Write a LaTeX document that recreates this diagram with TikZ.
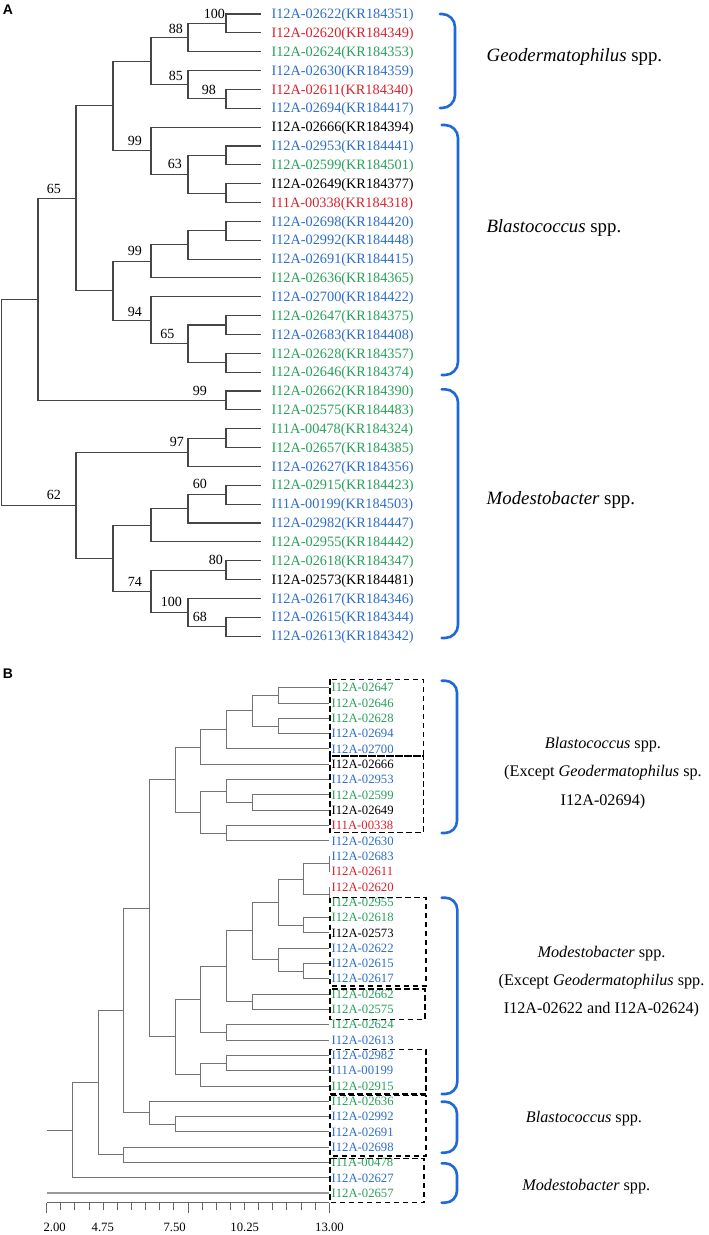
\documentclass[tikz,border=0pt]{standalone}
\usepackage{fontspec}
\setmainfont{Liberation Serif}
\newfontfamily\panelfont{Liberation Sans}

\definecolor{bluetxt}{RGB}{45,110,200}
\definecolor{greentxt}{RGB}{40,160,90}
\definecolor{redtxt}{RGB}{215,35,45}
\definecolor{bracecol}{RGB}{30,105,215}
\definecolor{treeA}{RGB}{70,70,70}
\definecolor{treeB}{RGB}{115,115,115}

\tikzset{
  leafA/.style={anchor=base west, inner sep=0pt, font=\fontsize{14.3}{17}\selectfont},
  leafB/.style={anchor=base west, inner sep=0pt, font=\fontsize{12.7}{15}\selectfont},
  boot/.style={anchor=base east, inner sep=0pt, font=\fontsize{14}{16}\selectfont},
  blueleaf/.style={text=bluetxt},
  greenleaf/.style={text=greentxt},
  redleaf/.style={text=redtxt},
  branchA/.style={draw=treeA, line width=1.1pt},
  branchB/.style={draw=treeB, line width=1pt},
  groupbox/.style={draw=black, line width=1.5pt, dash pattern=on 5.5pt off 3.5pt},
  sppbrace/.style={draw=bracecol, line width=2.6pt, rounded corners=13pt, line cap=round},
  cladeA/.style={anchor=base west, inner sep=0pt, font=\fontsize{18.8}{22}\selectfont},
  cladeB/.style={anchor=base, inner sep=0pt, font=\fontsize{16.2}{19}\selectfont},
  scalelabel/.style={anchor=base, inner sep=0pt, font=\fontsize{12.7}{15}\selectfont},
  panel/.style={inner sep=0pt, font=\panelfont\bfseries\fontsize{14}{16}\selectfont}
}

\begin{document}
\begin{tikzpicture}[x=1pt, y=-1pt]
\useasboundingbox (0,0) rectangle (709,1235);

%%%%%%%%%%%%%%%% Panel A %%%%%%%%%%%%%%%%
% genus labels
\node[cladeA] (geoA) at (486.5,61) {\textit{Geodermatophilus} spp.};
\node[cladeA] (blaA) at (486.3,232) {\textit{Blastococcus} spp.};
\node[cladeA] (modA) at (486.5,504.5) {\textit{Modestobacter} spp.};

% leaf ends
\coordinate (la1) at (261,14.00);
\coordinate (la2) at (261,32.85);
\coordinate (la3) at (261,51.70);
\coordinate (la4) at (261,70.55);
\coordinate (la5) at (261,89.40);
\coordinate (la6) at (261,108.25);
\coordinate (la7) at (261,127.10);
\coordinate (la8) at (261,145.95);
\coordinate (la9) at (261,164.80);
\coordinate (la10) at (261,183.65);
\coordinate (la11) at (261,202.50);
\coordinate (la12) at (261,221.35);
\coordinate (la13) at (261,240.20);
\coordinate (la14) at (261,259.05);
\coordinate (la15) at (261,277.90);
\coordinate (la16) at (261,296.75);
\coordinate (la17) at (261,315.60);
\coordinate (la18) at (261,334.45);
\coordinate (la19) at (261,353.30);
\coordinate (la20) at (261,372.15);
\coordinate (la21) at (261,391.00);
\coordinate (la22) at (261,409.85);
\coordinate (la23) at (261,428.70);
\coordinate (la24) at (261,447.55);
\coordinate (la25) at (261,466.40);
\coordinate (la26) at (261,485.25);
\coordinate (la27) at (261,504.10);
\coordinate (la28) at (261,522.95);
\coordinate (la29) at (261,541.80);
\coordinate (la30) at (261,560.65);
\coordinate (la31) at (261,579.50);
\coordinate (la32) at (261,598.35);
\coordinate (la33) at (261,617.20);
\coordinate (la34) at (261,636.05);

% leaf labels
\node[leafA, blueleaf] (ta1) at (271.3,18.70) {I12A-02622(KR184351)};
\node[leafA, redleaf] (ta2) at (271.3,37.55) {I12A-02620(KR184349)};
\node[leafA, greenleaf] (ta3) at (271.3,56.40) {I12A-02624(KR184353)};
\node[leafA, blueleaf] (ta4) at (271.3,75.25) {I12A-02630(KR184359)};
\node[leafA, redleaf] (ta5) at (271.3,94.10) {I12A-02611(KR184340)};
\node[leafA, blueleaf] (ta6) at (271.3,112.95) {I12A-02694(KR184417)};
\node[leafA] (ta7) at (271.3,131.80) {I12A-02666(KR184394)};
\node[leafA, blueleaf] (ta8) at (271.3,150.65) {I12A-02953(KR184441)};
\node[leafA, greenleaf] (ta9) at (271.3,169.50) {I12A-02599(KR184501)};
\node[leafA] (ta10) at (271.3,188.35) {I12A-02649(KR184377)};
\node[leafA, redleaf] (ta11) at (271.3,207.20) {I11A-00338(KR184318)};
\node[leafA, blueleaf] (ta12) at (271.3,226.05) {I12A-02698(KR184420)};
\node[leafA, blueleaf] (ta13) at (271.3,244.90) {I12A-02992(KR184448)};
\node[leafA, blueleaf] (ta14) at (271.3,263.75) {I12A-02691(KR184415)};
\node[leafA, greenleaf] (ta15) at (271.3,282.60) {I12A-02636(KR184365)};
\node[leafA, blueleaf] (ta16) at (271.3,301.45) {I12A-02700(KR184422)};
\node[leafA, greenleaf] (ta17) at (271.3,320.30) {I12A-02647(KR184375)};
\node[leafA, blueleaf] (ta18) at (271.3,339.15) {I12A-02683(KR184408)};
\node[leafA, greenleaf] (ta19) at (271.3,358.00) {I12A-02628(KR184357)};
\node[leafA, greenleaf] (ta20) at (271.3,376.85) {I12A-02646(KR184374)};
\node[leafA, greenleaf] (ta21) at (271.3,395.70) {I12A-02662(KR184390)};
\node[leafA, greenleaf] (ta22) at (271.3,414.55) {I12A-02575(KR184483)};
\node[leafA, greenleaf] (ta23) at (271.3,433.40) {I11A-00478(KR184324)};
\node[leafA, greenleaf] (ta24) at (271.3,452.25) {I12A-02657(KR184385)};
\node[leafA, blueleaf] (ta25) at (271.3,471.10) {I12A-02627(KR184356)};
\node[leafA, greenleaf] (ta26) at (271.3,489.95) {I12A-02915(KR184423)};
\node[leafA, blueleaf] (ta27) at (271.3,508.80) {I11A-00199(KR184503)};
\node[leafA, blueleaf] (ta28) at (271.3,527.65) {I12A-02982(KR184447)};
\node[leafA, greenleaf] (ta29) at (271.3,546.50) {I12A-02955(KR184442)};
\node[leafA, greenleaf] (ta30) at (271.3,565.35) {I12A-02618(KR184347)};
\node[leafA] (ta31) at (271.3,584.20) {I12A-02573(KR184481)};
\node[leafA, blueleaf] (ta32) at (271.3,603.05) {I12A-02617(KR184346)};
\node[leafA, blueleaf] (ta33) at (271.3,621.90) {I12A-02615(KR184344)};
\node[leafA, blueleaf] (ta34) at (271.3,640.75) {I12A-02613(KR184342)};

% internal nodes
\coordinate (geo1) at (226,23.43);
\coordinate (geo2) at (188,37.56);
\coordinate (geo3) at (226,98.83);
\coordinate (geo4) at (188,84.69);
\coordinate (geo5) at (151,61.13);
\coordinate (bla1) at (226,155.38);
\coordinate (bla2) at (226,193.08);
\coordinate (bla3) at (188,174.23);
\coordinate (bla4) at (151,150.66);
\coordinate (cA1) at (113,105.90);
\coordinate (bla5) at (226,230.78);
\coordinate (bla6) at (188,244.91);
\coordinate (bla7) at (151,261.41);
\coordinate (bla8) at (226,325.03);
\coordinate (bla9) at (226,362.73);
\coordinate (bla10) at (188,343.88);
\coordinate (bla11) at (151,320.31);
\coordinate (cA2) at (113,290.86);
\coordinate (cA3) at (76,198.38);
\coordinate (mod1) at (226,400.43);
\coordinate (cA4) at (38,299.40);
\coordinate (mod2) at (226,438.13);
\coordinate (mod3) at (188,452.26);
\coordinate (mod4) at (226,494.68);
\coordinate (mod5) at (188,508.81);
\coordinate (mod6) at (151,525.31);
\coordinate (mod7) at (226,570.08);
\coordinate (mod8) at (226,626.63);
\coordinate (mod9) at (188,612.49);
\coordinate (mod10) at (151,591.28);
\coordinate (mod11) at (113,558.30);
\coordinate (mod12) at (76,505.28);
\coordinate (rootA) at (1.2,402.34);

% Geodermatophilus clade
\draw[branchA] (geo1) |- (la1) (geo1) |- (la2);
\draw[branchA] (geo2) |- (geo1) (geo2) |- (la3);
\draw[branchA] (geo3) |- (la5) (geo3) |- (la6);
\draw[branchA] (geo4) |- (la4) (geo4) |- (geo3);
\draw[branchA] (geo5) |- (geo2) (geo5) |- (geo4);
% Blastococcus clade
\draw[branchA] (bla1) |- (la8) (bla1) |- (la9);
\draw[branchA] (bla2) |- (la10) (bla2) |- (la11);
\draw[branchA] (bla3) |- (bla1) (bla3) |- (bla2);
\draw[branchA] (bla4) |- (la7) (bla4) |- (bla3);
\draw[branchA] (cA1) |- (geo5) (cA1) |- (bla4);
\draw[branchA] (bla5) |- (la12) (bla5) |- (la13);
\draw[branchA] (bla6) |- (bla5) (bla6) |- (la14);
\draw[branchA] (bla7) |- (bla6) (bla7) |- (la15);
\draw[branchA] (bla8) |- (la17) (bla8) |- (la18);
\draw[branchA] (bla9) |- (la19) (bla9) |- (la20);
\draw[branchA] (bla10) |- (bla8) (bla10) |- (bla9);
\draw[branchA] (bla11) |- (la16) (bla11) |- (bla10);
\draw[branchA] (cA2) |- (bla7) (cA2) |- (bla11);
\draw[branchA] (cA3) |- (cA1) (cA3) |- (cA2);
% Modestobacter clade
\draw[branchA] (mod1) |- (la21) (mod1) |- (la22);
\draw[branchA] (cA4) |- (cA3) (cA4) |- (mod1);
\draw[branchA] (mod2) |- (la23) (mod2) |- (la24);
\draw[branchA] (mod3) |- (mod2) (mod3) |- (la25);
\draw[branchA] (mod4) |- (la26) (mod4) |- (la27);
\draw[branchA] (mod5) |- (mod4) (mod5) |- (la28);
\draw[branchA] (mod6) |- (mod5) (mod6) |- (la29);
\draw[branchA] (mod7) |- (la30) (mod7) |- (la31);
\draw[branchA] (mod8) |- (la33) (mod8) |- (la34);
\draw[branchA] (mod9) |- (la32) (mod9) |- (mod8);
\draw[branchA] (mod10) |- (mod7) (mod10) |- (mod9);
\draw[branchA] (mod11) |- (mod6) (mod11) |- (mod10);
\draw[branchA] (mod12) |- (mod3) (mod12) |- (mod11);
\draw[branchA] (rootA) |- (cA4) (rootA) |- (mod12);

% bootstrap values
\node[boot] (bs1) at (225,18.5) {100};
\node[boot] (bs2) at (183,33) {88};
\node[boot] (bs3) at (216,94) {98};
\node[boot] (bs4) at (183,80) {85};
\node[boot] (bs5) at (142,145.5) {99};
\node[boot] (bs6) at (182,168.5) {63};
\node[boot] (bs7) at (61,193) {65};
\node[boot] (bs8) at (142,255.5) {99};
\node[boot] (bs9) at (142,316) {94};
\node[boot] (bs10) at (174.5,338.5) {65};
\node[boot] (bs11) at (207,395.5) {99};
\node[boot] (bs12) at (184,446) {97};
\node[boot] (bs13) at (61,499.5) {62};
\node[boot] (bs14) at (207,488.5) {60};
\node[boot] (bs15) at (223,564) {80};
\node[boot] (bs16) at (142,586) {74};
\node[boot] (bs17) at (182,606) {100};
\node[boot] (bs18) at (207,621.5) {68};

% genus brackets
\draw[sppbrace] (440,14) -- (455,14) -- (455,108) -- (440,108);
\draw[sppbrace] (441.7,125) -- (458,125) -- (458,375) -- (441.7,375);
\draw[sppbrace] (441.7,389.3) -- (458,389.3) -- (458,638) -- (441.7,638);

%%%%%%%%%%%%%%%% Panel B %%%%%%%%%%%%%%%%
% leaf ends
\coordinate (lb1) at (329.4,687.70);
\coordinate (lb2) at (329.4,703.02);
\coordinate (lb3) at (329.4,718.34);
\coordinate (lb4) at (329.4,733.66);
\coordinate (lb5) at (329.4,748.98);
\coordinate (lb6) at (329.4,764.30);
\coordinate (lb7) at (329.4,779.62);
\coordinate (lb8) at (329.4,794.94);
\coordinate (lb9) at (329.4,810.26);
\coordinate (lb10) at (329.4,825.58);
\coordinate (lb11) at (329.4,840.90);
\coordinate (lb12) at (329.4,856.22);
\coordinate (lb13) at (329.4,871.54);
\coordinate (lb14) at (329.4,886.86);
\coordinate (lb15) at (329.4,902.18);
\coordinate (lb16) at (329.4,917.50);
\coordinate (lb17) at (329.4,932.82);
\coordinate (lb18) at (329.4,948.14);
\coordinate (lb19) at (329.4,963.46);
\coordinate (lb20) at (329.4,978.78);
\coordinate (lb21) at (329.4,994.10);
\coordinate (lb22) at (329.4,1009.42);
\coordinate (lb23) at (329.4,1024.74);
\coordinate (lb24) at (329.4,1040.06);
\coordinate (lb25) at (329.4,1055.38);
\coordinate (lb26) at (329.4,1070.70);
\coordinate (lb27) at (329.4,1086.02);
\coordinate (lb28) at (329.4,1101.34);
\coordinate (lb29) at (329.4,1116.66);
\coordinate (lb30) at (329.4,1131.98);
\coordinate (lb31) at (329.4,1147.30);
\coordinate (lb32) at (329.4,1162.62);
\coordinate (lb33) at (329.4,1177.94);
\coordinate (lb34) at (329.4,1193.26);

% leaf labels
\node[leafB, greenleaf] (tb1) at (331.4,691.90) {I12A-02647};
\node[leafB, greenleaf] (tb2) at (331.4,707.22) {I12A-02646};
\node[leafB, greenleaf] (tb3) at (331.4,722.54) {I12A-02628};
\node[leafB, blueleaf] (tb4) at (331.4,737.86) {I12A-02694};
\node[leafB, blueleaf] (tb5) at (331.4,753.18) {I12A-02700};
\node[leafB] (tb6) at (331.4,768.50) {I12A-02666};
\node[leafB, blueleaf] (tb7) at (331.4,783.82) {I12A-02953};
\node[leafB, greenleaf] (tb8) at (331.4,799.14) {I12A-02599};
\node[leafB] (tb9) at (331.4,814.46) {I12A-02649};
\node[leafB, redleaf] (tb10) at (331.4,829.78) {I11A-00338};
\node[leafB, blueleaf] (tb11) at (331.4,845.10) {I12A-02630};
\node[leafB, blueleaf] (tb12) at (331.4,860.42) {I12A-02683};
\node[leafB, redleaf] (tb13) at (331.4,875.74) {I12A-02611};
\node[leafB, redleaf] (tb14) at (331.4,891.06) {I12A-02620};
\node[leafB, greenleaf] (tb15) at (331.4,906.38) {I12A-02955};
\node[leafB, greenleaf] (tb16) at (331.4,921.70) {I12A-02618};
\node[leafB] (tb17) at (331.4,937.02) {I12A-02573};
\node[leafB, blueleaf] (tb18) at (331.4,952.34) {I12A-02622};
\node[leafB, blueleaf] (tb19) at (331.4,967.66) {I12A-02615};
\node[leafB, blueleaf] (tb20) at (331.4,982.98) {I12A-02617};
\node[leafB, greenleaf] (tb21) at (331.4,998.30) {I12A-02662};
\node[leafB, greenleaf] (tb22) at (331.4,1013.62) {I12A-02575};
\node[leafB, greenleaf] (tb23) at (331.4,1028.94) {I12A-02624};
\node[leafB, blueleaf] (tb24) at (331.4,1044.26) {I12A-02613};
\node[leafB, blueleaf] (tb25) at (331.4,1059.58) {I12A-02982};
\node[leafB, blueleaf] (tb26) at (331.4,1074.90) {I11A-00199};
\node[leafB, greenleaf] (tb27) at (331.4,1090.22) {I12A-02915};
\node[leafB, greenleaf] (tb28) at (331.4,1105.54) {I12A-02636};
\node[leafB, blueleaf] (tb29) at (331.4,1120.86) {I12A-02992};
\node[leafB, blueleaf] (tb30) at (331.4,1136.18) {I12A-02691};
\node[leafB, blueleaf] (tb31) at (331.4,1151.50) {I12A-02698};
\node[leafB, greenleaf] (tb32) at (331.4,1166.82) {I11A-00478};
\node[leafB, blueleaf] (tb33) at (331.4,1182.14) {I12A-02627};
\node[leafB, greenleaf] (tb34) at (331.4,1197.46) {I12A-02657};

% internal nodes (x = 46.7 + (distance-2)*25.7)
\coordinate (p1) at (278.0,695.36);
\coordinate (p2) at (278.0,726.00);
\coordinate (p3) at (252.3,710.68);
\coordinate (p4) at (226.6,729.83);
\coordinate (p5) at (200.9,747.07);
\coordinate (p6) at (252.3,802.60);
\coordinate (p7) at (226.6,791.11);
\coordinate (p8) at (226.6,833.24);
\coordinate (p9) at (200.9,812.18);
\coordinate (p10) at (175.2,779.62);
\coordinate (q1) at (329.4,863.88);
\coordinate (q2) at (329.4,894.52);
\coordinate (q3) at (303.7,879.20);
\coordinate (q4) at (303.7,925.16);
\coordinate (q5) at (278.0,902.18);
\coordinate (q6) at (303.7,971.12);
\coordinate (q7) at (278.0,959.63);
\coordinate (q8) at (252.3,930.90);
\coordinate (q9) at (252.3,1001.76);
\coordinate (q10) at (226.6,966.33);
\coordinate (q11) at (226.6,1032.40);
\coordinate (q12) at (200.9,999.37);
\coordinate (q13) at (226.6,1063.04);
\coordinate (q14) at (200.9,1074.53);
\coordinate (q15) at (175.2,1036.95);
\coordinate (r1) at (149.5,908.29);
\coordinate (s1) at (175.2,1124.32);
\coordinate (s2) at (149.5,1112.83);
\coordinate (r2) at (123.8,1010.56);
\coordinate (s3) at (123.8,1154.96);
\coordinate (r3) at (98.1,1082.76);
\coordinate (r4) at (72.4,1130.35);
\coordinate (rootB) at (46.7,1130.35);
\coordinate (outB) at (46.7,1193.26);

% upper group
\draw[branchB] (p1) |- (lb1) (p1) |- (lb2);
\draw[branchB] (p2) |- (lb3) (p2) |- (lb4);
\draw[branchB] (p3) |- (p1) (p3) |- (p2);
\draw[branchB] (p4) |- (p3) (p4) |- (lb5);
\draw[branchB] (p5) |- (p4) (p5) |- (lb6);
\draw[branchB] (p6) |- (lb8) (p6) |- (lb9);
\draw[branchB] (p7) |- (lb7) (p7) |- (p6);
\draw[branchB] (p8) |- (lb10) (p8) |- (lb11);
\draw[branchB] (p9) |- (p7) (p9) |- (p8);
\draw[branchB] (p10) |- (p5) (p10) |- (p9);
% middle group
\draw[branchB] (q1) |- (lb12) (q1) |- (lb13);
\draw[branchB] (q2) |- (lb14) (q2) |- (lb15);
\draw[branchB] (q3) |- (q1) (q3) |- (q2);
\draw[branchB] (q4) |- (lb16) (q4) |- (lb17);
\draw[branchB] (q5) |- (q3) (q5) |- (q4);
\draw[branchB] (q6) |- (lb19) (q6) |- (lb20);
\draw[branchB] (q7) |- (lb18) (q7) |- (q6);
\draw[branchB] (q8) |- (q5) (q8) |- (q7);
\draw[branchB] (q9) |- (lb21) (q9) |- (lb22);
\draw[branchB] (q10) |- (q8) (q10) |- (q9);
\draw[branchB] (q11) |- (lb23) (q11) |- (lb24);
\draw[branchB] (q12) |- (q10) (q12) |- (q11);
\draw[branchB] (q13) |- (lb25) (q13) |- (lb26);
\draw[branchB] (q14) |- (q13) (q14) |- (lb27);
\draw[branchB] (q15) |- (q12) (q15) |- (q14);
\draw[branchB] (r1) |- (p10) (r1) |- (q15);
% lower group
\draw[branchB] (s1) |- (lb29) (s1) |- (lb30);
\draw[branchB] (s2) |- (lb28) (s2) |- (s1);
\draw[branchB] (r2) |- (r1) (r2) |- (s2);
\draw[branchB] (s3) |- (lb31) (s3) |- (lb32);
\draw[branchB] (r3) |- (r2) (r3) |- (s3);
\draw[branchB] (r4) |- (r3) (r4) |- (lb33);
\draw[branchB] (rootB) -- (r4);
\draw[branchB, draw=black!40, line width=1.6pt] (outB) -- (lb34);

% scale
\coordinate (axL) at (46.7,1202.7);
\coordinate (axR) at (329.4,1202.7);
\draw[branchB, draw=black!60] (axL) -- (axR);
\foreach \k in {0,...,20} {
  \pgfmathsetmacro\tlen{ifthenelse(mod(\k,10)==0,10,7)}
  \draw[branchB, draw=black!60] ({46.7+\k*14.135},1202.7) -- ++(0,\tlen);
}
\node[scalelabel] (sc1) at (54.7,1231.5) {2.00};
\node[scalelabel] (sc2) at (102.8,1231.5) {4.75};
\node[scalelabel] (sc3) at (174.7,1231.5) {7.50};
\node[scalelabel] (sc4) at (244.7,1231.5) {10.25};
\node[scalelabel] (sc5) at (329.5,1231.5) {13.00};

% dashed groups
\draw[groupbox] (330,679.3) rectangle (423.3,756);
\draw[groupbox] (330,756) rectangle (423.3,832.7);
\draw[groupbox] (330,897.7) rectangle (426,986);
\draw[groupbox] (330,989) rectangle (425,1019.3);
\draw[groupbox] (330,1049.3) rectangle (426,1094);
\draw[groupbox] (330,1095.7) rectangle (426,1156);
\draw[groupbox] (330,1158.3) rectangle (424,1202.7);

% genus brackets
\draw[sppbrace, rounded corners=12pt] (441.7,680.7) -- (457,680.7) -- (457,833) -- (441.7,833);
\draw[sppbrace, rounded corners=12pt] (441.7,897.7) -- (457.3,897.7) -- (457.3,1094) -- (441.7,1094);
\draw[sppbrace, rounded corners=12pt] (441.7,1101.7) -- (457,1101.7) -- (457,1152.7) -- (441.7,1152.7);
\draw[sppbrace, rounded corners=12pt] (441.7,1163.3) -- (457,1163.3) -- (457,1202.7) -- (441.7,1202.7);

\node[cladeB] (blaB1) at (603,748.3) {\textit{Blastococcus} spp.};
\node[cladeB] (blaB2) at (603,776.7) {(Except \textit{Geodermatophilus} sp.};
\node[cladeB] (blaB3) at (603,805.7) {I12A-02694)};
\node[cladeB] (modB1) at (601.5,957) {\textit{Modestobacter} spp.};
\node[cladeB] (modB2) at (601.5,985) {(Except \textit{Geodermatophilus} spp.};
\node[cladeB] (modB3) at (601.5,1013.3) {I12A-02622 and I12A-02624)};
\node[cladeB] (blaB4) at (584,1122.7) {\textit{Blastococcus} spp.};
\node[cladeB] (modB4) at (586.3,1190) {\textit{Modestobacter} spp.};

% Panel letters
\node[panel] (lblA) at (8,10) {A};
\node[panel] (lblB) at (8,674) {B};

\end{tikzpicture}
\end{document}
